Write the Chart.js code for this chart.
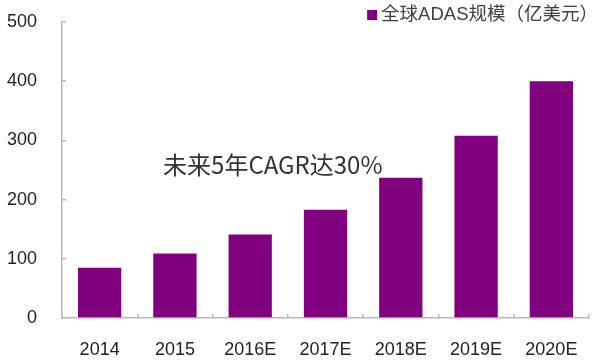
<!DOCTYPE html>
<html>
<head>
<meta charset="utf-8">
<script src="https://cdn.jsdelivr.net/npm/chart.js@4"></script>
<style>
  html, body { margin: 0; padding: 0; background: #fff; }
  #wrap { width: 593px; height: 364px; position: relative; }
</style>
</head>
<body>
<div id="wrap"><canvas id="c" width="593" height="364"></canvas></div>
<script>
const categories = ['2014', '2015', '2016E', '2017E', '2018E', '2019E', '2020E'];
const adasValues = [85, 109, 141, 183, 237, 308, 400];
const yTicks = [0, 100, 200, 300, 400, 500];
const seriesLabel = '全球ADAS规模（亿美元）';
const noteText = '未来5年CAGR达30%';

const barColor = '#800080';
const axisColor = '#b8b8b8';
const latinFont = '"Liberation Sans", Arial, sans-serif';

const overlay = {
  id: 'overlay',
  afterDraw(chart) {
    const ctx = chart.ctx;
    const xs = chart.scales.x, ys = chart.scales.y;
    ctx.save();
    // legend
    ctx.font = '18.5px "Liberation Sans", "Noto Sans CJK SC", sans-serif';
    ctx.textBaseline = 'middle';
    const tw = ctx.measureText(seriesLabel).width;
    const tx = chart.width + 5 - tw;
    const ty = 15;
    ctx.fillStyle = barColor;
    ctx.fillRect(tx - 14, ty - 5, 10, 10);
    ctx.fillStyle = '#404040';
    ctx.fillText(seriesLabel, tx, ty);
    // annotation
    ctx.font = '24px "Noto Sans CJK SC", sans-serif';
    ctx.fillStyle = '#333333';
    ctx.textAlign = 'center';
    ctx.fillText(noteText, xs.getPixelForValue(2.3), ys.getPixelForValue(258));
    ctx.restore();
  }
};

new Chart(document.getElementById('c'), {
  type: 'bar',
  data: {
    labels: categories,
    datasets: [{
      label: seriesLabel,
      data: adasValues,
      backgroundColor: barColor,
      borderWidth: 0,
      categoryPercentage: 1,
      barPercentage: 0.575
    }]
  },
  options: {
    responsive: false,
    animation: false,
    layout: { padding: { top: 22, right: 4, left: 0, bottom: 0 } },
    plugins: { legend: { display: false }, tooltip: { enabled: false } },
    scales: {
      x: {
        grid: { drawOnChartArea: false, drawTicks: true, tickLength: -4, color: axisColor, lineWidth: 1.5, offset: true },
        border: { display: true, color: axisColor, width: 1.5 },
        ticks: { color: '#222', font: { size: 18, family: latinFont }, padding: 25, maxRotation: 0 },
        afterFit(s) { s.height = 46; s.paddingLeft = 0; s.paddingRight = 0; }
      },
      y: {
        min: 0, max: 500,
        afterBuildTicks(s) { s.ticks = yTicks.map(v => ({ value: v })); },
        grid: { drawOnChartArea: false, drawTicks: true, tickLength: -4, color: axisColor, lineWidth: 1.5 },
        border: { display: true, color: axisColor, width: 1.5 },
        ticks: { color: '#222', font: { size: 18, family: latinFont }, padding: 29 },
        afterFit(s) { s.width = 62; s.paddingTop = 0; s.paddingBottom = 0; }
      }
    }
  },
  plugins: [overlay]
});
</script>
</body>
</html>
